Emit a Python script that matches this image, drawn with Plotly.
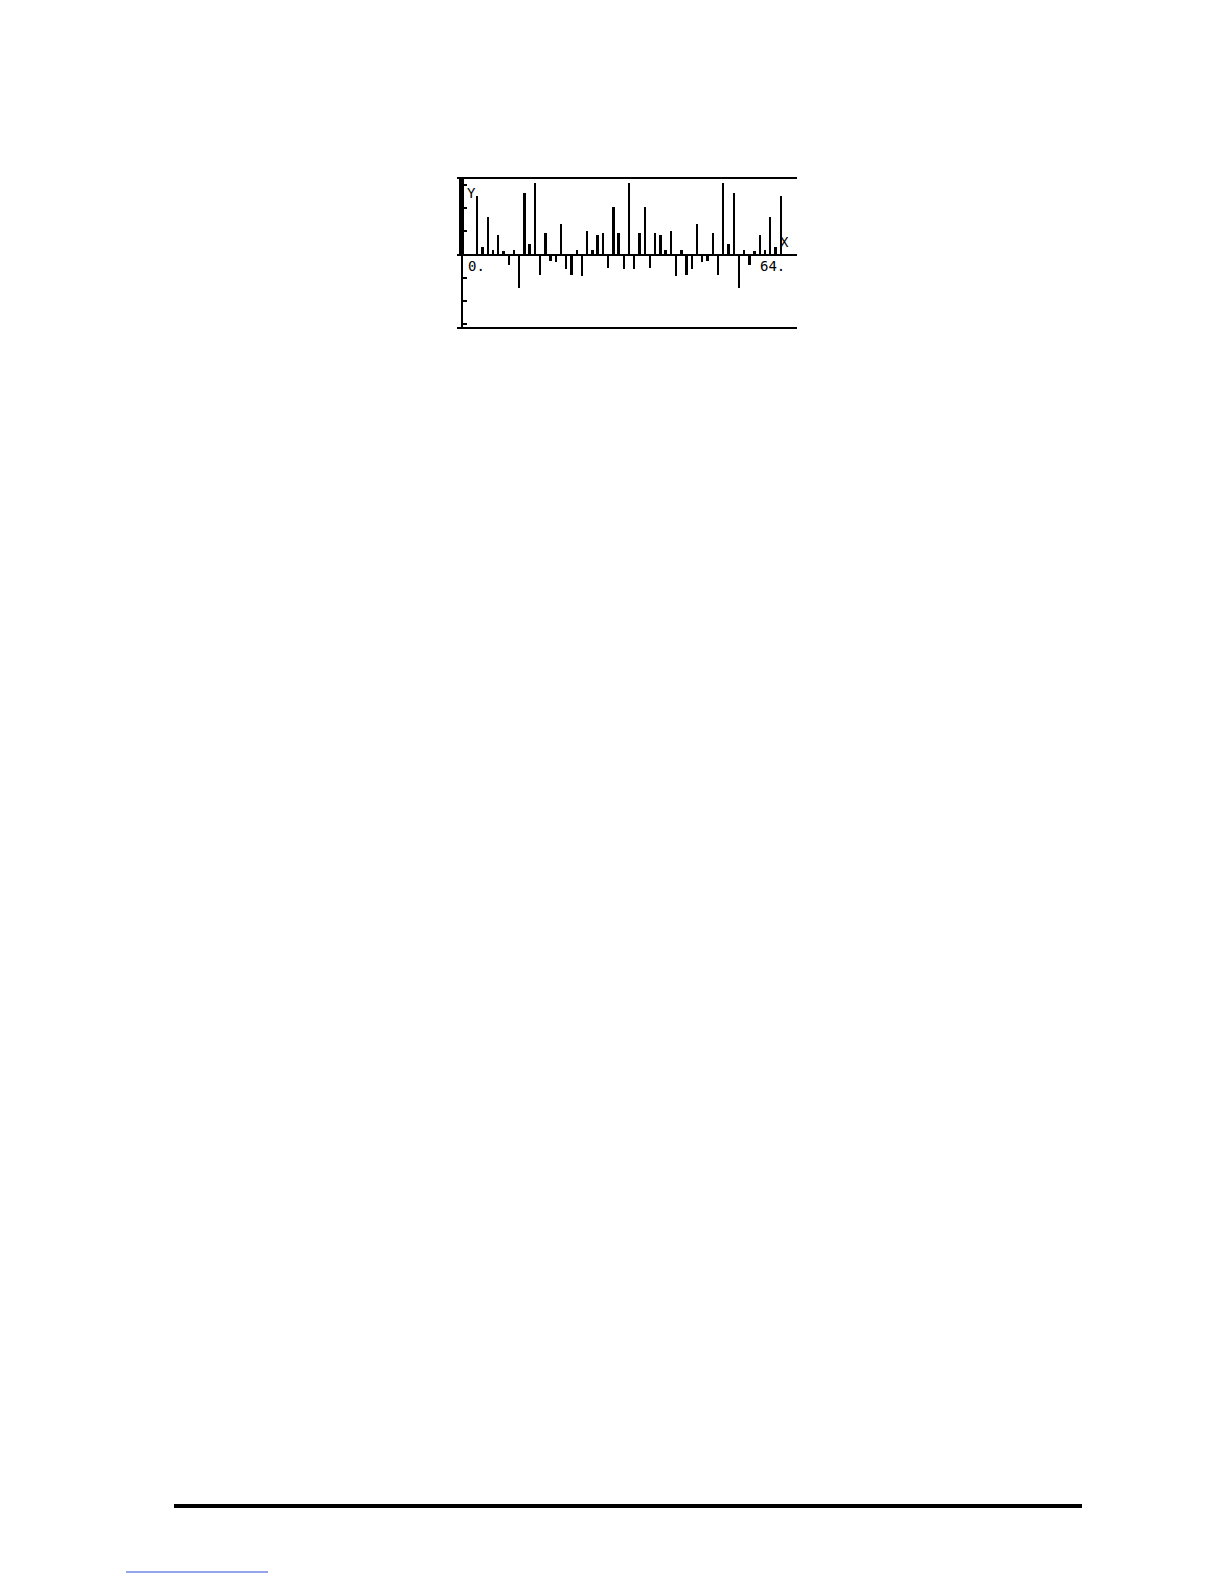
import plotly.graph_objects as go

# FFT-like bar data (index 0..63), values
indices = list(range(64))
values = [
    60.0, 0.0, 0.0, 25.3, 3.4, 16.3, 2.1, 8.2,
    1.3, -4.3, 2.1, -14.2, 26.2, 4.3, 30.5, -8.6,
    9.4, -2.6, -3.4, 13.3, -6.4, -8.6, 2.1, -9.4,
    9.9, 2.1, 8.2, 9.4, -5.6, 20.2, 9.4, -6.4,
    30.9, -6.4, 9.4, 20.2, -5.6, 9.4, 8.2, 2.1,
    9.9, -9.4, 2.1, -8.6, -6.4, 13.3, -3.4, -2.6,
    9.4, -8.6, 30.5, 4.3, 26.2, -14.2, 2.1, -4.3,
    1.3, 8.2, 2.1, 16.3, 3.4, 25.3, 0.0, 0.0,
]
y_ticks = [-30, -20, -10, 10, 20, 30]
x_labels = ["0.", "64."]
axis_names = ["X", "Y"]

# page has an 8px body margin around the plotly div
BODY = 8
W, H = 1224 - 2 * BODY, 1584 - 2 * BODY
# target plot-area edges in page pixels
left_px, right_px, top_px, bottom_px = 457, 797, 179, 327

x_min, x_max = -0.88, 64.1

widths = [0.9 if k == 0 else 0.45 for k in indices]

fig = go.Figure(
    go.Bar(
        x=indices,
        y=values,
        width=widths,
        marker=dict(color="black", line=dict(width=0)),
        hoverinfo="skip",
    )
)

mono = dict(family="DejaVu Sans Mono", size=14, color="black")

pw = right_px - left_px
ph = bottom_px - top_px

fig.update_layout(
    width=W,
    height=H,
    margin=dict(l=left_px - BODY, r=W - (right_px - BODY),
                t=top_px - BODY, b=H - (bottom_px - BODY), pad=0),
    paper_bgcolor="white",
    plot_bgcolor="white",
    showlegend=False,
    bargap=0,
    xaxis=dict(
        range=[x_min, x_max],
        showgrid=False,
        zeroline=False,
        showline=True,
        mirror=True,
        linecolor="black",
        linewidth=2,
        ticks="",
        showticklabels=False,
        automargin=False,
        fixedrange=True,
    ),
    yaxis=dict(
        range=[-31.1, 32.4],
        showgrid=False,
        zeroline=True,
        zerolinecolor="black",
        zerolinewidth=2,
        showline=True,
        linecolor="black",
        linewidth=2,
        anchor="free",
        position=(0 - x_min) / (x_max - x_min),
        ticks="inside",
        ticklen=4,
        tickwidth=2,
        tickcolor="black",
        tickvals=y_ticks,
        showticklabels=False,
        automargin=False,
        fixedrange=True,
    ),
    annotations=[
        dict(x=0.7, y=26.4, xref="x", yref="y", text=axis_names[1], showarrow=False,
             xanchor="left", yanchor="middle", font=mono),
        dict(x=0.8, y=-0.8, xref="x", yref="y", text=x_labels[0], showarrow=False,
             xanchor="left", yanchor="top", font=mono),
        dict(x=62.1, y=-0.8, xref="x", yref="y", text=x_labels[1], showarrow=False,
             xanchor="right", yanchor="top", font=mono),
        dict(x=61.8, y=0.9, xref="x", yref="y", text=axis_names[0], showarrow=False,
             xanchor="center", yanchor="bottom", font=mono),
    ],
    shapes=[
        dict(type="line", xref="paper", yref="paper",
             x0=(174 - left_px) / pw, x1=(1082 - left_px) / pw,
             y0=-(1506 - bottom_px) / ph, y1=-(1506 - bottom_px) / ph,
             line=dict(color="black", width=4)),
        dict(type="line", xref="paper", yref="paper",
             x0=(126 - left_px) / pw, x1=(268 - left_px) / pw,
             y0=-(1572 - bottom_px) / ph, y1=-(1572 - bottom_px) / ph,
             line=dict(color="#2b4bd9", width=1)),
    ],
)

fig.write_html("out.html")
